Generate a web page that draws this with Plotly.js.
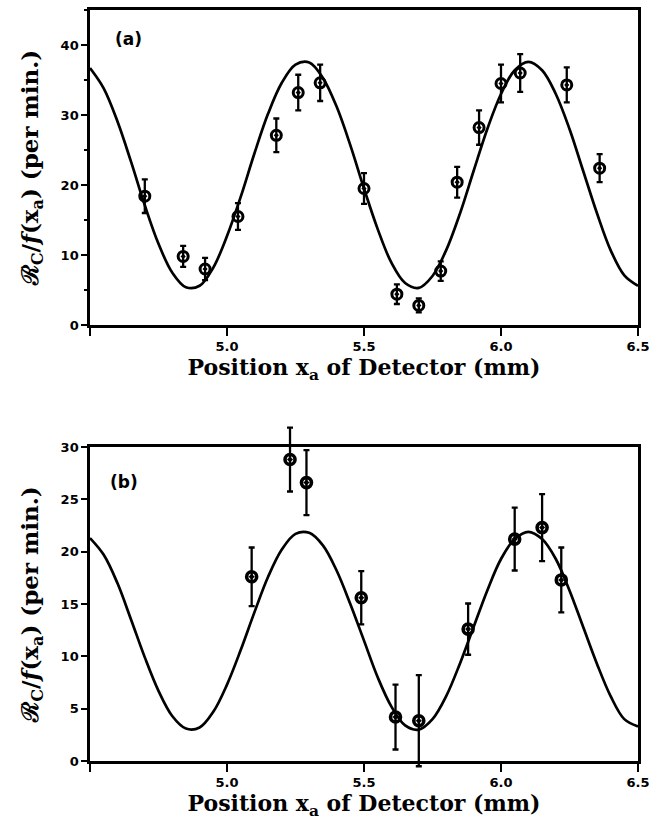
<!DOCTYPE html>
<html>
<head>
<meta charset="utf-8">
<script src="https://cdn.plot.ly/plotly-3.0.1.min.js"></script>
<style>
html,body{margin:0;padding:0;background:#fff;}
#chart{width:665px;height:820px;}
</style>
</head>
<body>
<div id="chart"></div>
<script>
// ---- Panel (a) data ----
const aX   = [4.70, 4.84, 4.92, 5.04, 5.18, 5.26, 5.34, 5.50, 5.62, 5.70, 5.78, 5.84, 5.92, 6.00, 6.07, 6.24, 6.36];
const aY   = [18.4, 9.8, 8.0, 15.5, 27.1, 33.2, 34.6, 19.5, 4.4, 2.8, 7.7, 20.4, 28.2, 34.5, 36.0, 34.3, 22.4];
const aErr = [2.4, 1.5, 1.6, 1.9, 2.4, 2.55, 2.6, 2.2, 1.4, 1.0, 1.4, 2.2, 2.45, 2.7, 2.7, 2.5, 2.0];

// ---- Panel (b) data ----
const bX   = [5.09, 5.23, 5.29, 5.49, 5.615, 5.70, 5.88, 6.05, 6.15, 6.22];
const bY   = [17.6, 28.8, 26.6, 15.6, 4.2, 3.85, 12.6, 21.2, 22.3, 17.3];
const bErr = [2.8, 3.05, 3.1, 2.55, 3.1, 4.35, 2.45, 3.0, 3.2, 3.1];

// ---- Fitted curves ----
const fitX = [4.50,4.55,4.60,4.65,4.70,4.75,4.80,4.85,4.90,4.95,5.00,5.05,5.10,5.15,5.20,5.25,5.30,5.35,5.40,5.45,
              5.50,5.55,5.60,5.65,5.70,5.75,5.80,5.85,5.90,5.95,6.00,6.05,6.10,6.15,6.20,6.25,6.30,6.35,6.40,6.45,6.50];
const fitA = [36.7,33.8,29.1,23.3,17.1,11.6,7.5,5.4,5.6,8.2,12.7,18.3,24.5,30.2,34.6,37.2,37.5,35.3,31.2,25.7,
              19.5,13.7,8.9,6.0,5.3,7.0,10.7,15.9,22.0,28.0,33.0,36.4,37.6,36.4,33.0,28.0,22.0,16.0,10.7,7.1,5.6];
const fitB = [21.3,19.7,17.0,13.5,9.9,6.7,4.3,3.1,3.2,4.7,7.3,10.6,14.2,17.6,20.2,21.7,21.8,20.6,18.2,15.0,
              11.5,8.0,5.2,3.4,3.0,4.0,6.2,9.3,12.8,16.3,19.3,21.2,21.9,21.2,19.3,16.3,12.8,9.3,6.2,4.0,3.3];

const xTickVals = [4.5, 5.0, 5.5, 6.0, 6.5];
const xTickText = ["", "5.0", "5.5", "6.0", "6.5"];
const aYTicks = [0, 10, 20, 30, 40];
const bYTicks = [0, 5, 10, 15, 20, 25, 30];
const aRange = [0, 45];
const bRange = [0, 30];

const yTitle = "\u211B<sub>C</sub>/<i>f</i>(x<sub>a</sub>) (per min.)";
const xTitle = "Position x<sub>a</sub> of Detector (mm)";

const tickFont = {family: "DejaVu Sans, sans-serif", size: 13, color: "#000", weight: "bold"};
const xTitleFont = {family: "DejaVu Serif, serif", size: 22, color: "#000", weight: "bold"};
const yTitleFont = {family: "DejaVu Serif, serif", size: 23, color: "#000", weight: "bold"};

// layout geometry (pixels)
const H = 820, mT = 10, mB = 40;
const plotH = H - mT - mB;
function dom(topPx, botPx) { return [(H - mB - botPx) / plotH, (H - mB - topPx) / plotH]; }
const aDom = dom(10, 325);
const bDom = dom(447, 761);
// free axis for the (b) error bars so they are not clipped by the frame
const eDom = [0, 0.46];
const bScale = (bDom[1] - bDom[0]) / (bRange[1] - bRange[0]);
const eRange = [bRange[0] - (bDom[0] - eDom[0]) / bScale, bRange[1] + (eDom[1] - bDom[1]) / bScale];

function ptTrace(x, y, e, xa, ya, lw) {
  return {
    x: x, y: y, xaxis: xa, yaxis: ya, type: "scatter", mode: "markers",
    cliponaxis: false,
    marker: {symbol: "circle-open-dot", size: 10, color: "#000", line: {color: "#000", width: lw}},
    error_y: {type: "data", array: e, visible: true, color: "#000", thickness: 2.3, width: 3},
    showlegend: false, hoverinfo: "skip"
  };
}

const traces = [
  {x: fitX, y: fitA, xaxis: "x", yaxis: "y", type: "scatter", mode: "lines",
   line: {color: "#000", width: 2.7, shape: "spline"}, showlegend: false, hoverinfo: "skip"},
  ptTrace(aX, aY, aErr, "x", "y", 3),
  {x: fitX, y: fitB, xaxis: "x2", yaxis: "y2", type: "scatter", mode: "lines",
   line: {color: "#000", width: 2.7, shape: "spline"}, showlegend: false, hoverinfo: "skip"},
  ptTrace(bX, bY, bErr, "x2", "y3", 3.6)
];

function xAxis(anchor) {
  return {
    anchor: anchor, range: [4.5, 6.5], domain: [0, 1],
    showline: true, linewidth: 2.7, linecolor: "#000", mirror: true,
    ticks: "outside", ticklen: 8, tickwidth: 2.2, tickcolor: "#000",
    tickmode: "array", tickvals: xTickVals, ticktext: xTickText,
    tickfont: tickFont, showgrid: false, zeroline: false,
    title: {text: xTitle, font: xTitleFont, standoff: 1}
  };
}
function yAxis(anchor, domain, range, tv, minor) {
  const ax = {
    anchor: anchor, domain: domain, range: range,
    showline: true, linewidth: 2.7, linecolor: "#000", mirror: true,
    ticks: "outside", ticklen: 6, tickwidth: 2.2, tickcolor: "#000",
    tickmode: "array", tickvals: tv, tickfont: tickFont,
    showgrid: false, zeroline: false,
    title: {text: yTitle, font: yTitleFont, standoff: 16}
  };
  if (minor) ax.minor = {dtick: 5, tick0: 0, ticks: "outside", ticklen: 3, tickwidth: 2, tickcolor: "#000", showgrid: false};
  return ax;
}

const layout = {
  width: 665, height: H,
  margin: {l: 90, r: 27, t: mT, b: mB},
  paper_bgcolor: "#fff", plot_bgcolor: "rgba(0,0,0,0)",
  xaxis: xAxis("y"),
  yaxis: yAxis("x", aDom, aRange, aYTicks, true),
  xaxis2: xAxis("y2"),
  yaxis2: yAxis("x2", bDom, bRange, bYTicks, false),
  yaxis3: {anchor: "x2", domain: eDom, range: eRange, visible: false, showgrid: false, zeroline: false, fixedrange: true},
  annotations: [
    {text: "(a)", xref: "paper", yref: "paper", x: (128.5 - 90) / 548, y: (H - mB - 39) / plotH, xanchor: "center", yanchor: "middle",
     showarrow: false, font: {family: "DejaVu Sans, sans-serif", size: 17, color: "#000", weight: "bold"}},
    {text: "(b)", xref: "paper", yref: "paper", x: (124 - 90) / 548, y: (H - mB - 482) / plotH, xanchor: "center", yanchor: "middle",
     showarrow: false, font: {family: "DejaVu Sans, sans-serif", size: 17, color: "#000", weight: "bold"}}
  ]
};

Plotly.newPlot("chart", traces, layout, {displayModeBar: false, staticPlot: true});
</script>
</body>
</html>
